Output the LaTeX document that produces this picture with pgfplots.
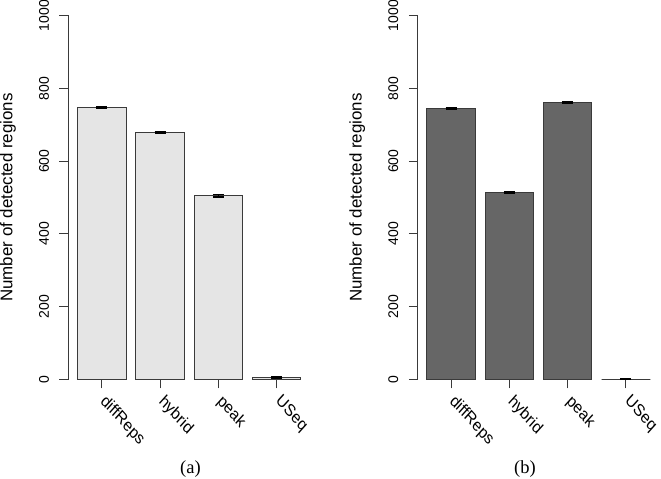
\documentclass[border=0pt]{standalone}
\usepackage{pgfplots}
\pgfplotsset{compat=1.18}
\usepackage{fontspec}
\setmainfont{Liberation Sans}
\newfontfamily\captionserif{Liberation Serif}
\definecolor{barA}{HTML}{E5E5E5}
\definecolor{barB}{HTML}{666666}
\definecolor{edge}{HTML}{3A3A3A}

\pgfplotsset{
  rpanel/.style={
    scale only axis,
    width=241.4bp, height=363.6bp,
    xmin=0.016, xmax=4.984, ymin=0, ymax=1000,
    axis y line*=left, axis x line*=bottom,
    x axis line style={draw=none},
    y axis line style={draw=edge, line width=1bp},
    every tick/.style={draw=edge, line width=1bp},
    tick align=outside, major tick length=9bp,
    xtick={0.7,1.9,3.1,4.3},
    xticklabels={diffReps,hybrid,peak,USeq},
    ytick={0,200,400,600,800,1000},
    /pgf/number format/assume math mode=true,
    /pgf/number format/1000 sep={},
    y tick label style={xshift=-7bp, rotate=90, anchor=south, font=\fontsize{14bp}{16bp}\selectfont},
    x tick label style={xshift=6bp, yshift=-5bp, xscale=0.9, rotate=-45, anchor=north west, inner sep=0pt, font=\fontsize{16.9bp}{20bp}\selectfont},
    ylabel={Number of detected regions},
    ylabel style={at={(axis description cs:-0.2506,0.5)}, anchor=center, rotate=0, font=\fontsize{16.9bp}{20bp}\selectfont},
    ybar, bar width=1, bar shift=0pt,
    clip=false,
    error bars/error bar style={black, line width=1.6bp},
    error bars/error mark options={black, line width=1.6bp, mark size=5.5bp, rotate=90},
  }
}

\begin{document}
\begin{tikzpicture}
\path[use as bounding box] (0,0) rectangle (661bp,479bp);

\begin{axis}[rpanel, at={(68.5bp,99.7bp)}, anchor=south west]
\addplot[draw=edge, line width=1bp, fill=barA,
  error bars/.cd, y dir=both, y explicit]
  table[x=x, y=y, y error=e] {
  x   y    e
  0.7 748  2
  1.9 679  2
  3.1 505  3
  4.3 5    1.5
};
\end{axis}

\begin{axis}[rpanel, at={(417.8bp,99.7bp)}, anchor=south west]
\addplot[draw=edge, line width=1bp, fill=barB,
  error bars/.cd, y dir=both, y explicit]
  table[x=x, y=y, y error=e] {
  x   y    e
  0.7 744  2
  1.9 513  2
  3.1 762  2
  4.3 0    0.5
};
\end{axis}

\node[font=\captionserif\fontsize{18.5bp}{22bp}\selectfont] at (190.5bp,10bp) {(a)};
\node[font=\captionserif\fontsize{18.5bp}{22bp}\selectfont] at (525bp,10bp) {(b)};
\end{tikzpicture}
\end{document}
